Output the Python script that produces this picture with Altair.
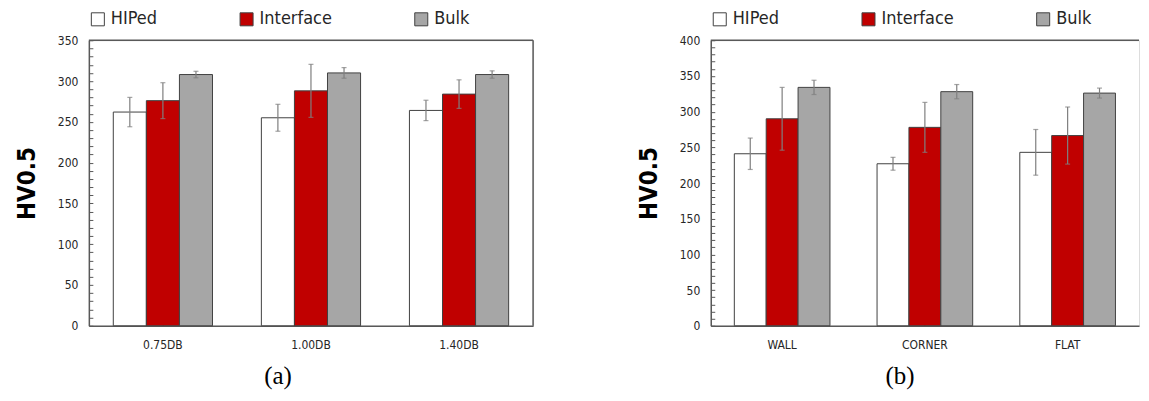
import altair as alt
import pandas as pd

series = ["HIPed", "Interface", "Bulk"]
colors = ["#FFFFFF", "#C00000", "#A6A6A6"]

cats_a = ["0.75DB", "1.00DB", "1.40DB"]
hiped_a = [262, 255, 264]
hiped_a_err = [18, 16.5, 12.5]
iface_a = [276, 288, 284]
iface_a_err = [22, 32.5, 17.5]
bulk_a = [308, 310, 308]
bulk_a_err = [4, 6.5, 4.5]

cats_b = ["WALL", "CORNER", "FLAT"]
hiped_b = [241, 227, 243]
hiped_b_err = [22, 9, 32]
iface_b = [290, 278, 266.5]
iface_b_err = [44, 35, 40]
bulk_b = [334, 328, 326]
bulk_b_err = [10, 10, 7]

FONT = "'DejaVu Sans Condensed', 'Roboto Condensed', 'Arial Narrow', sans-serif"
AXIS_COLOR = "#595959"


def build_df(cats, vals, errs):
    rows = []
    for s, v, e in zip(series, vals, errs):
        for c, vi, ei in zip(cats, v, e):
            rows.append(dict(cat=c, series=s, value=vi, lo=vi - ei, hi=vi + ei))
    return pd.DataFrame(rows)


def panel(df, cats, ymax, width, height, sub, frame_right=True):
    xaxis = alt.Axis(
        title=sub, labelAngle=0, ticks=True, tickSize=alt.ExprRef("-4"),
        tickColor=AXIS_COLOR, labelPadding=18,
        labelFont=FONT, labelFontSize=12, labelColor="#262626",
        titleFont="Liberation Serif", titleFontSize=25, titleFontWeight="normal",
        titleColor="black", titlePadding=13, titleX=189,
        domainColor=AXIS_COLOR, domainWidth=1.5,
    )
    x = alt.X("cat:N", sort=cats, axis=xaxis,
              scale=alt.Scale(paddingInner=0.33, paddingOuter=0.165))
    xo = alt.XOffset("series:N", sort=series,
                     scale=alt.Scale(paddingInner=0, paddingOuter=0))
    yaxis = alt.Axis(
        title="HV0.5", values=list(range(0, ymax + 1, 10)),
        labelExpr="datum.value % 50 == 0 ? datum.label : ''",
        tickSize=alt.ExprRef("-4"), tickColor=AXIS_COLOR, labelPadding=15, grid=False,
        labelFont=FONT, labelFontSize=12, labelColor="#262626",
        titleFont=FONT, titleFontSize=24, titleFontWeight="bold",
        titleColor="black", titlePadding=18,
        domainColor=AXIS_COLOR, domainWidth=1.5,
    )
    y = alt.Y("value:Q", scale=alt.Scale(domain=[0, ymax], nice=False), axis=yaxis)
    ylo = alt.Y("lo:Q", scale=alt.Scale(domain=[0, ymax], nice=False), axis=yaxis)
    yhi = alt.Y("hi:Q", scale=alt.Scale(domain=[0, ymax], nice=False), axis=yaxis)

    color = alt.Color(
        "series:N", scale=alt.Scale(domain=series, range=colors),
        legend=alt.Legend(
            title=None, orient="none", legendX=0, legendY=-30,
            direction="horizontal", columns=3, columnPadding=80,
            labelFont=FONT, labelFontSize=18, labelColor="#262626",
            symbolType="square", symbolSize=170, symbolStrokeColor="#404040",
            symbolStrokeWidth=1, labelOffset=4,
        ),
    )
    bars = alt.Chart(df).mark_bar(stroke="#404040", strokeWidth=1).encode(
        x=x, xOffset=xo, y=y, color=color
    )
    rules = alt.Chart(df).mark_rule(color="#7F7F7F", strokeWidth=1.2).encode(
        x=x, xOffset=xo, y=ylo, y2="hi:Q"
    )
    cap_lo = alt.Chart(df).mark_tick(color="#7F7F7F", size=5, thickness=1.2).encode(
        x=x, xOffset=xo, y=ylo
    )
    cap_hi = alt.Chart(df).mark_tick(color="#7F7F7F", size=5, thickness=1.2).encode(
        x=x, xOffset=xo, y=yhi
    )
    layers = [bars, rules, cap_lo, cap_hi]
    border = pd.DataFrame({"k": [0]})
    top = alt.Chart(border).mark_rule(color=AXIS_COLOR, strokeWidth=1.5).encode(
        y=alt.value(0), x=alt.value(0), x2=alt.value(width)
    )
    layers.append(top)
    if frame_right:
        right = alt.Chart(border).mark_rule(color=AXIS_COLOR, strokeWidth=1.5).encode(
            x=alt.value(width), y=alt.value(0), y2=alt.value(height)
        )
        layers.append(right)
    return alt.layer(*layers).properties(width=width, height=height)


df_a = build_df(cats_a, [hiped_a, iface_a, bulk_a], [hiped_a_err, iface_a_err, bulk_a_err])
df_b = build_df(cats_b, [hiped_b, iface_b, bulk_b], [hiped_b_err, iface_b_err, bulk_b_err])

pa = panel(df_a, cats_a, 350, 445, 286, "(a)")
pb = panel(df_b, cats_b, 400, 429, 286, "(b)", frame_right=False)

chart = alt.hconcat(pa, pb, spacing=101).resolve_legend(color="independent").resolve_scale(
    color="independent", y="independent", x="independent", xOffset="independent"
).properties(
    padding={"left": 6, "top": 1, "right": 0, "bottom": 0}
).configure_view(stroke="transparent").configure(background="white")

chart.save("out.html", embed_options={"renderer": "svg", "actions": False})
